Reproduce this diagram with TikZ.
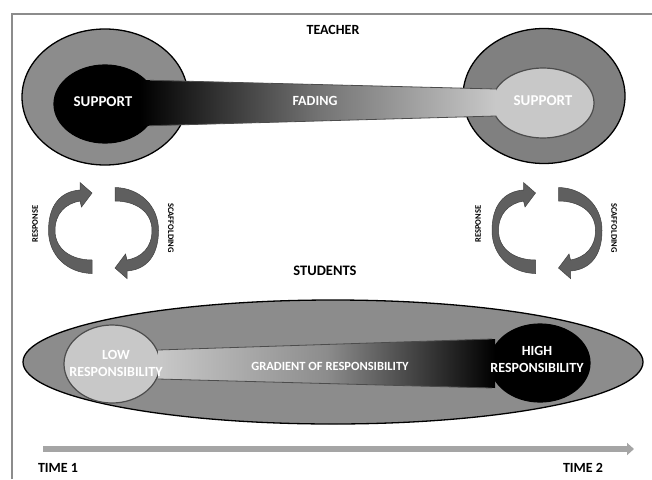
\documentclass[tikz,border=0pt]{standalone}
\usepackage{fontspec}
\setmainfont{Carlito}
\usetikzlibrary{shapes.geometric,arrows.meta}
\definecolor{ringgray}{RGB}{140,140,140}
\definecolor{ringgrayb}{RGB}{128,128,128}
\definecolor{lightfill}{RGB}{200,200,200}
\definecolor{arrowgray}{RGB}{95,95,95}
\definecolor{timegray}{RGB}{165,165,165}
\definecolor{framegray}{RGB}{140,140,140}
\tikzset{
  ring/.style={draw=black, line width=1.3pt, ellipse, fill=ringgray, inner sep=0pt},
  core/.style={ellipse, inner sep=0pt, line width=1.2pt},
  lbl/.style={font=\bfseries\fontsize{14}{16}\selectfont, align=center, inner sep=0pt},
  wlbl/.style={lbl, text=white},
  resplbl/.style={wlbl, font=\bfseries\fontsize{14}{17}\selectfont},
  small/.style={font=\bfseries\fontsize{8.5}{10}\selectfont, inner sep=0pt},
  halfcycle/.pic={
    \fill[arrowgray, draw=black!75, line width=0.5pt]
      (-11.5,43) .. controls (-36,42.5) and (-55,25) .. (-55,0)
      .. controls (-55,-24) and (-44,-39) .. (-23.5,-40.5)
      -- (-23.5,-48) -- (-11.5,-37.5) -- (-22,-23.5) -- (-23.5,-29.5)
      .. controls (-38,-27) and (-48.5,-17) .. (-48.5,0)
      .. controls (-48.5,19) and (-32,29.5) .. (-11.5,29.5) -- cycle;
  }
}
\begin{document}
\begin{tikzpicture}[x=1pt,y=-1pt]
\useasboundingbox (0,0) rectangle (652,479);
% frame
\draw[framegray, line width=1.5pt] (12,479) -- (12,14) -- (652,14);

% ---------- teacher ----------
\node[lbl] (teacher) at (333,30) {TEACHER};
\node[ring, minimum width=166pt, minimum height=136pt] (louter) at (105,97) {};
\node[ring, fill=ringgrayb, minimum width=162pt, minimum height=135pt] (router) at (544,96) {};
\node[core, fill=black, draw=black, minimum width=102pt, minimum height=78pt] (lcore) at (105,104) {};
\node[core, fill=lightfill, draw=black!70, minimum width=102pt, minimum height=70pt] (rcore) at (543,103) {};
\shade[left color=black, right color=lightfill, middle color=black!55]
  (140,80) -- (496,89) -- (496,116) -- (140,126) -- cycle;
\draw[black!70, line width=0.8pt] (150,80.3) -- (496,89);
\draw[black!70, line width=0.8pt] (150,125.7) -- (496,116);
\node[wlbl, font=\bfseries\fontsize{15}{17}\selectfont] (lsup) at (103,102) {SUPPORT};
\node[wlbl, font=\bfseries\fontsize{15}{17}\selectfont] (rsup) at (543,101) {SUPPORT};
\node[wlbl] (fading) at (315,101) {FADING};

% ---------- cycles ----------
\pic at (103.5,230.5) {halfcycle};
\pic[rotate=180] at (103.5,230.5) {halfcycle};
\pic at (547,230.5) {halfcycle};
\pic[rotate=180] at (547,230.5) {halfcycle};
\node[small, rotate=90] (resp1) at (35,224) {RESPONSE};
\node[small, rotate=-90] (scaf1) at (171,228) {SCAFFOLDING};
\node[small, rotate=90] (resp2) at (478,224) {RESPONSE};
\node[small, rotate=-90] (scaf2) at (614,228) {SCAFFOLDING};

% ---------- students ----------
\node[lbl, font=\bfseries\fontsize{14.5}{16}\selectfont] (students) at (325,271) {STUDENTS};
\node[ring, minimum width=620pt, minimum height=124pt] (big) at (333,362) {};
\node[core, fill=lightfill, draw=black!70, minimum width=96pt, minimum height=78pt] (low) at (112,364) {};
\node[core, fill=black, draw=black, minimum width=100pt, minimum height=78pt] (high) at (540,363) {};
\shade[left color=lightfill, right color=black, middle color=black!45]
  (158,350) -- (495,339) -- (495,388) -- (158,379) -- cycle;
\draw[black!70, line width=0.8pt] (158,350) -- (492,339);
\draw[black!70, line width=0.8pt] (158,379) -- (492,388);
\node[resplbl] (lowt) at (116,363) {LOW\\RESPONSIBILITY};
\node[resplbl] (hight) at (537,359) {HIGH\\RESPONSIBILITY};
\node[wlbl, font=\bfseries\fontsize{12.5}{15}\selectfont] (grad) at (330,366) {GRADIENT OF RESPONSIBILITY};

% ---------- time ----------
\coordinate (t1) at (43,449);
\coordinate (t2) at (634,449);
\draw[timegray, line width=5.5pt, -{Triangle[length=7pt,width=12pt]}] (t1) -- (t2);
\node[lbl] (time1) at (58,468) {TIME 1};
\node[lbl] (time2) at (583,468) {TIME 2};
\end{tikzpicture}
\end{document}
